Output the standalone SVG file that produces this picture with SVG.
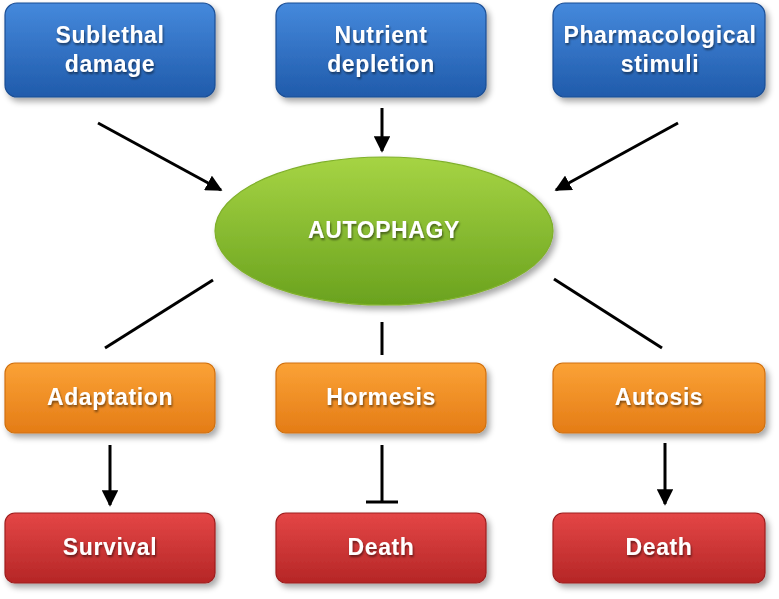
<svg xmlns="http://www.w3.org/2000/svg" width="779" height="599" viewBox="0 0 779 599">
<defs>
<linearGradient id="gBlue" x1="0" y1="0" x2="0" y2="1">
<stop offset="0" stop-color="#4589dc"/><stop offset="1" stop-color="#205bab"/>
</linearGradient>
<linearGradient id="gOrange" x1="0" y1="0" x2="0" y2="1">
<stop offset="0" stop-color="#fba236"/><stop offset="1" stop-color="#e47c16"/>
</linearGradient>
<linearGradient id="gRed" x1="0" y1="0" x2="0" y2="1">
<stop offset="0" stop-color="#e44646"/><stop offset="1" stop-color="#b52626"/>
</linearGradient>
<linearGradient id="gGreen" x1="0" y1="0" x2="0" y2="1">
<stop offset="0" stop-color="#a6d444"/><stop offset="1" stop-color="#6aa21e"/>
</linearGradient>
<filter id="sh" x="-10%" y="-10%" width="125%" height="130%">
<feGaussianBlur in="SourceAlpha" stdDeviation="3"/>
<feOffset dx="3" dy="4" result="b"/>
<feComponentTransfer><feFuncA type="linear" slope="0.35"/></feComponentTransfer>
<feMerge><feMergeNode/><feMergeNode in="SourceGraphic"/></feMerge>
</filter>
<filter id="tsh" x="-10%" y="-20%" width="120%" height="150%">
<feGaussianBlur in="SourceAlpha" stdDeviation="0.8"/>
<feOffset dx="1" dy="1.5"/>
<feComponentTransfer><feFuncA type="linear" slope="0.5"/></feComponentTransfer>
<feMerge><feMergeNode/><feMergeNode in="SourceGraphic"/></feMerge>
</filter>
<marker id="arr" viewBox="0 0 10 10" refX="9" refY="5" markerWidth="5.5" markerHeight="5.5" orient="auto" markerUnits="strokeWidth">
<path d="M0,0 L10,5 L0,10 z" fill="#000"/>
</marker>
</defs>
<style>
.box{stroke-width:1.2;filter:url(#sh)}
.blue{fill:url(#gBlue);stroke:#1b4e94}
.orange{fill:url(#gOrange);stroke:#d0700e}
.red{fill:url(#gRed);stroke:#9e1e1e}
.lbl{font-family:"Liberation Sans",Arial,sans-serif;font-weight:bold;font-size:23px;fill:#fff;text-anchor:middle;letter-spacing:0.6px;filter:url(#tsh)}
.c{stroke:#000;stroke-width:3;fill:none}
.ca{stroke:#000;stroke-width:3;fill:none;marker-end:url(#arr)}
</style>
<rect width="779" height="599" fill="#fff"/>

<g id="connectors">
<line class="ca" x1="98" y1="123" x2="221" y2="190"/>
<line class="ca" x1="382" y1="108" x2="382" y2="151"/>
<line class="ca" x1="678" y1="123" x2="556" y2="190"/>
<line class="c" x1="213" y1="280" x2="105" y2="348"/>
<line class="c" x1="382" y1="322" x2="382" y2="355"/>
<line class="c" x1="554" y1="279" x2="662" y2="348"/>
<line class="ca" x1="110" y1="445" x2="110" y2="505"/>
<line class="c" x1="382" y1="445" x2="382" y2="502"/>
<line class="c" x1="366" y1="502" x2="398" y2="502"/>
<line class="ca" x1="665" y1="443" x2="665" y2="504"/>
</g>

<g id="n_sublethal">
<rect class="box blue" x="5" y="3" width="210" height="94" rx="12"/>
<text class="lbl" x="110" y="43">Sublethal</text>
<text class="lbl" x="110" y="72">damage</text>
</g>
<g id="n_nutrient">
<rect class="box blue" x="276" y="3" width="210" height="94" rx="12"/>
<text class="lbl" x="381" y="43">Nutrient</text>
<text class="lbl" x="381" y="72">depletion</text>
</g>
<g id="n_pharma">
<rect class="box blue" x="553" y="3" width="212" height="94" rx="12"/>
<text class="lbl" x="660" y="43">Pharmacological</text>
<text class="lbl" x="660" y="72">stimuli</text>
</g>

<g id="n_autophagy">
<ellipse cx="384" cy="231" rx="169" ry="74" fill="url(#gGreen)" stroke="#7fb02a" stroke-width="1.2" filter="url(#sh)"/>
<text class="lbl" x="384" y="238">AUTOPHAGY</text>
</g>

<g id="n_adaptation">
<rect class="box orange" x="5" y="363" width="210" height="70" rx="10"/>
<text class="lbl" x="110" y="405">Adaptation</text>
</g>
<g id="n_hormesis">
<rect class="box orange" x="276" y="363" width="210" height="70" rx="10"/>
<text class="lbl" x="381" y="405">Hormesis</text>
</g>
<g id="n_autosis">
<rect class="box orange" x="553" y="363" width="212" height="70" rx="10"/>
<text class="lbl" x="659" y="405">Autosis</text>
</g>

<g id="n_survival">
<rect class="box red" x="5" y="513" width="210" height="70" rx="10"/>
<text class="lbl" x="110" y="555">Survival</text>
</g>
<g id="n_death1">
<rect class="box red" x="276" y="513" width="210" height="70" rx="10"/>
<text class="lbl" x="381" y="555">Death</text>
</g>
<g id="n_death2">
<rect class="box red" x="553" y="513" width="212" height="70" rx="10"/>
<text class="lbl" x="659" y="555">Death</text>
</g>
</svg>
